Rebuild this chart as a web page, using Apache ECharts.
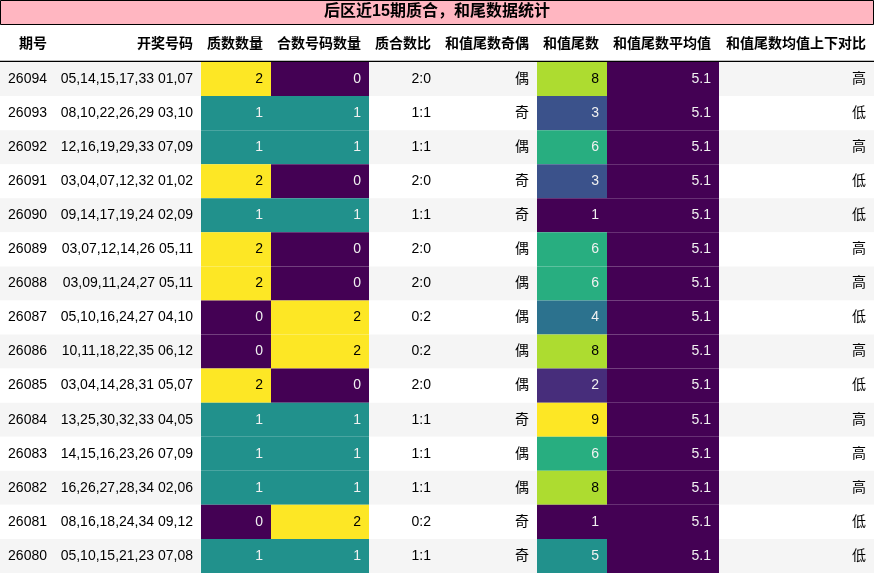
<!DOCTYPE html>
<html>
<head>
<meta charset="utf-8">
<script src="https://cdn.jsdelivr.net/npm/echarts@6/dist/echarts.min.js"></script>
<style>html,body{margin:0;padding:0;background:#fff}#main{width:874px;height:573px}</style>
</head>
<body>
<div id="main"></div>
<script>
var title = '后区近15期质合，和尾数据统计';
var headers = ['期号', '开奖号码', '质数数量', '合数号码数量', '质合数比', '和值尾数奇偶', '和值尾数', '和值尾数平均值', '和值尾数均值上下对比'];
var issues = ['26094','26093','26092','26091','26090','26089','26088','26087','26086','26085','26084','26083','26082','26081','26080'];
var draws = ['05,14,15,17,33 01,07','08,10,22,26,29 03,10','12,16,19,29,33 07,09','03,04,07,12,32 01,02','09,14,17,19,24 02,09',
  '03,07,12,14,26 05,11','03,09,11,24,27 05,11','05,10,16,24,27 04,10','10,11,18,22,35 06,12','03,04,14,28,31 05,07',
  '13,25,30,32,33 04,05','14,15,16,23,26 07,09','16,26,27,28,34 02,06','08,16,18,24,34 09,12','05,10,15,21,23 07,08'];
var primeCount = [2,1,1,2,1,2,2,0,0,2,1,1,1,0,1];
var compCount = [0,1,1,0,1,0,0,2,2,0,1,1,1,2,1];
var ratio = ['2:0','1:1','1:1','2:0','1:1','2:0','2:0','0:2','0:2','2:0','1:1','1:1','1:1','0:2','1:1'];
var parity = ['偶','奇','偶','奇','奇','偶','偶','偶','偶','偶','奇','偶','偶','奇','奇'];
var tail = [8,3,6,3,1,6,6,4,8,2,9,6,8,1,5];
var tailAvg = [5.1,5.1,5.1,5.1,5.1,5.1,5.1,5.1,5.1,5.1,5.1,5.1,5.1,5.1,5.1];
var compare = ['高','低','高','低','低','高','高','低','高','低','高','高','高','低','低'];

var edges = [0, 55, 201, 271, 369, 439, 537, 607, 719, 874];
var viridis = ['#440154','#472d7b','#3b528b','#2c728e','#21918c','#28ae80','#5ec962','#addc30','#fde725'];
function hex(c){return [parseInt(c.substr(1,2),16),parseInt(c.substr(3,2),16),parseInt(c.substr(5,2),16)];}
function cmap(v, lo, hi) {
  var t = hi > lo ? (v - lo) / (hi - lo) : 0;
  t = Math.max(0, Math.min(1, t)) * 8;
  var i = Math.min(7, Math.floor(t)), f = t - i;
  var a = hex(viridis[i]), b = hex(viridis[i + 1]);
  var r = a.map(function (x, k) { return Math.round(x + (b[k] - x) * f); });
  return 'rgb(' + r.join(',') + ')';
}
function lum(c){var m=c.match(/\d+/g).map(Number);return 0.299*m[0]+0.587*m[1]+0.114*m[2];}
function range(a){return [Math.min.apply(null,a),Math.max.apply(null,a)];}

var columns = [issues, draws, primeCount, compCount, ratio, parity, tail, tailAvg, compare];
var colored = {2: range(primeCount), 3: range(compCount), 6: range(tail), 7: range(tailAvg)};

var cells = [];
for (var r = 0; r < issues.length; r++) {
  for (var c = 0; c < columns.length; c++) cells.push([c, r, String(columns[c][r])]);
}

var myChart = echarts.init(document.getElementById('main'));
var font = '"Liberation Sans","Noto Sans CJK SC",sans-serif';
var headerText = headers.map(function (h, i) {
  return {type: 'text', right: 874 - edges[i + 1] + 8, top: 37,
    style: {text: h, font: 'bold 14px ' + font, fill: '#000'}};
});
var option = {
  animation: false,
  grid: {left: 0, right: 0, top: 62, bottom: 0},
  xAxis: {type: 'value', min: 0, max: 874, show: false},
  yAxis: {type: 'category', data: issues, inverse: true, show: false},
  graphic: [
    {type: 'rect', shape: {x: 0.5, y: 0.5, width: 873, height: 24}, style: {fill: '#ffb6c1', stroke: '#000', lineWidth: 1}},
    {type: 'text', left: 'center', top: 4, style: {text: title, font: 'bold 16px ' + font, fill: '#000'}},
    {type: 'line', shape: {x1: 0, y1: 61.5, x2: 874, y2: 61.5}, style: {stroke: '#000', lineWidth: 1.5}}
  ].concat(headerText),
  series: [{
    type: 'custom',
    data: cells,
    renderItem: function (params, api) {
      var c = api.value(0), r = api.value(1), txt = cells[params.dataIndex][2];
      var p0 = api.coord([edges[c], r]), p1 = api.coord([edges[c + 1], r]);
      var h = api.size([0, 1])[1];
      var fill = r % 2 === 0 ? '#f5f5f5' : '#ffffff', tc = '#000';
      if (colored[c]) {
        fill = cmap(Number(txt), colored[c][0], colored[c][1]);
        tc = lum(fill) > 140 ? '#000' : '#f1f1f1';
      }
      return {type: 'group', children: [
        {type: 'rect', shape: {x: p0[0], y: p0[1] - h / 2, width: p1[0] - p0[0], height: h}, style: {fill: fill}},
        {type: 'text', x: p1[0] - 8, y: p0[1],
          style: {text: txt, align: 'right', verticalAlign: 'middle', font: '14px ' + font, fill: tc}}
      ]};
    }
  }]
};
myChart.setOption(option);
</script>
</body>
</html>
